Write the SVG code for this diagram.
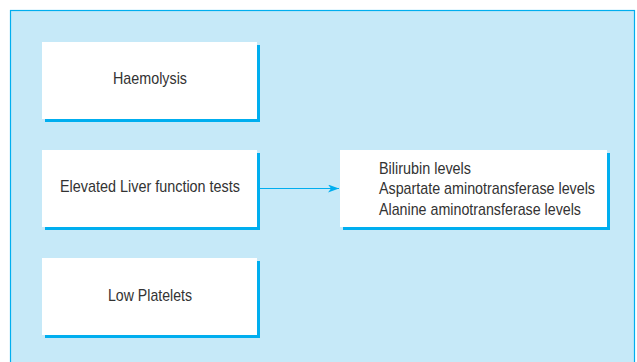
<svg xmlns="http://www.w3.org/2000/svg" width="637" height="362" viewBox="0 0 637 362">
<style>
.box{fill:#ffffff}
.sh{fill:#00aeef}
.t{font-family:"Liberation Sans",Arial,sans-serif;font-size:17px;fill:#333333}
</style>
<defs>
<marker id="ah" markerWidth="12" markerHeight="8" refX="11" refY="4" orient="auto" markerUnits="userSpaceOnUse">
<path d="M0,0 L11,4 L0,8 L3,4 Z" fill="#00aeef"/>
</marker>
</defs>
<rect x="0" y="0" width="637" height="362" fill="#ffffff"/>
<rect x="10.5" y="10.5" width="624" height="360" fill="#c6e9f8" stroke="#00aeef" stroke-width="1.2"/>
<g id="haemolysis">
<rect class="sh" x="45" y="45" width="215" height="77"/>
<rect class="box" x="42" y="42" width="215" height="77"/>
<text class="t" x="150" y="84" text-anchor="middle" textLength="74" lengthAdjust="spacingAndGlyphs">Haemolysis</text>
</g>
<g id="lft">
<rect class="sh" x="45" y="153" width="215" height="77"/>
<rect class="box" x="42" y="150" width="215" height="77"/>
<text class="t" x="150" y="192" text-anchor="middle" textLength="180" lengthAdjust="spacingAndGlyphs">Elevated Liver function tests</text>
</g>
<g id="platelets">
<rect class="sh" x="45" y="261" width="215" height="77"/>
<rect class="box" x="42" y="258" width="215" height="77"/>
<text class="t" x="150" y="301" text-anchor="middle" textLength="84" lengthAdjust="spacingAndGlyphs">Low Platelets</text>
</g>
<g id="levels">
<rect class="sh" x="343" y="153" width="267" height="77"/>
<rect class="box" x="340" y="150" width="267" height="77"/>
<text class="t" x="379" y="173.5" textLength="92" lengthAdjust="spacingAndGlyphs">Bilirubin levels</text>
<text class="t" x="379" y="194" textLength="216" lengthAdjust="spacingAndGlyphs">Aspartate aminotransferase levels</text>
<text class="t" x="379" y="214.5" textLength="202" lengthAdjust="spacingAndGlyphs">Alanine aminotransferase levels</text>
</g>
<g id="connectors">
<line x1="260" y1="188.5" x2="339" y2="188.5" stroke="#00aeef" stroke-width="1" marker-end="url(#ah)"/>
</g>
</svg>
